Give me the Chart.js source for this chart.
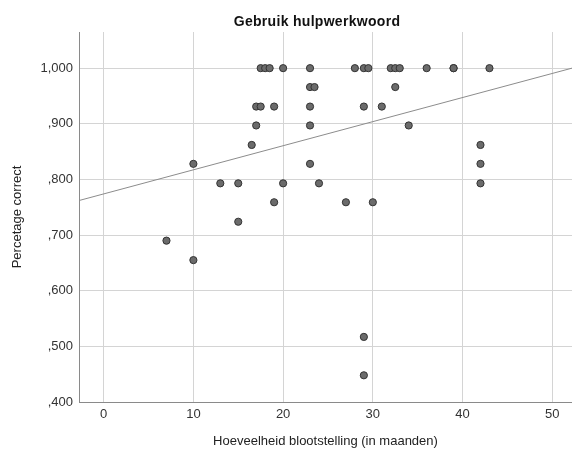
<!DOCTYPE html>
<html>
<head>
<meta charset="utf-8">
<script src="https://cdn.jsdelivr.net/npm/chart.js@4/dist/chart.umd.min.js"></script>
<style>
  html, body { margin: 0; padding: 0; background: #fff; }
  #wrap { width: 572px; height: 450px; }
</style>
</head>
<body>
<div id="wrap"><canvas id="c" width="572" height="450"></canvas></div>
<script>
// Exposure (months) per child and share of correct auxiliary-verb uses
const expoMonths = [
  17.5, 18, 18.5, 20, 23, 28, 29, 29.5, 32, 32.5, 33, 36, 39, 39, 43,
  23, 23.5, 32.5,
  17, 17.5, 19, 23, 29, 31,
  17, 23, 34,
  16.5, 42,
  10, 23, 42,
  13, 15, 20, 24, 42,
  19, 27, 30,
  15,
  7,
  10,
  29,
  29
];
const pctCorrect = [
  1.000, 1.000, 1.000, 1.000, 1.000, 1.000, 1.000, 1.000, 1.000, 1.000, 1.000, 1.000, 1.000, 1.000, 1.000,
  0.966, 0.966, 0.966,
  0.931, 0.931, 0.931, 0.931, 0.931, 0.931,
  0.897, 0.897, 0.897,
  0.862, 0.862,
  0.828, 0.828, 0.828,
  0.793, 0.793, 0.793, 0.793, 0.793,
  0.759, 0.759, 0.759,
  0.724,
  0.690,
  0.655,
  0.517,
  0.448
];

// Linear fit (total) as reported with the plot
const fitIntercept = 0.774;
const fitSlope = 0.00433;

// Axis ranges and tick values
const xRange = [-2.75, 52.2];
const yRange = [0.4, 1.065];
const xTicks = [0, 10, 20, 30, 40, 50];
const yTicks = [0.4, 0.5, 0.6, 0.7, 0.8, 0.9, 1.0];

const chartTitle = 'Gebruik hulpwerkwoord';
const xTitle = 'Hoeveelheid blootstelling (in maanden)';
const yTitle = 'Percetage correct';

const FONT = "'Liberation Sans', Arial, sans-serif";
Chart.defaults.font.family = FONT;

const points = expoMonths.map((x, i) => ({ x: x, y: pctCorrect[i] }));
const fitLine = xRange.map(x => ({ x: x, y: fitIntercept + fitSlope * x }));

// Dutch-style decimal labels without leading zero: 1,000  ,900 ...
function fmtY(v) {
  let s = v.toFixed(3).replace('.', ',');
  if (s.startsWith('0')) s = s.slice(1);
  return s;
}

const titlePlugin = {
  id: 'plotTitle',
  afterDraw(chart) {
    const ctx = chart.ctx;
    ctx.save();
    ctx.font = "bold 14px " + FONT;
    if ('letterSpacing' in ctx) ctx.letterSpacing = '0.3px';
    ctx.fillStyle = '#111';
    ctx.textAlign = 'center';
    ctx.textBaseline = 'alphabetic';
    ctx.fillText(chartTitle, 317, 26);
    ctx.restore();
  }
};

new Chart(document.getElementById('c'), {
  type: 'scatter',
  data: {
    datasets: [
      {
        type: 'line',
        data: fitLine,
        borderColor: '#8c8c8c',
        borderWidth: 1,
        pointRadius: 0,
        fill: false,
        order: 0
      },
      {
        data: points,
        backgroundColor: '#6b6b6b',
        borderColor: '#333333',
        borderWidth: 1,
        pointRadius: 3.6,
        pointHoverRadius: 3.6,
        order: 1
      }
    ]
  },
  options: {
    responsive: false,
    animation: false,
    layout: { autoPadding: false, padding: { top: 32, left: 0, right: 0, bottom: 0 } },
    plugins: {
      legend: { display: false },
      title: { display: false },
      tooltip: { enabled: false }
    },
    scales: {
      x: {
        type: 'linear',
        min: xRange[0],
        max: xRange[1],
        afterBuildTicks: s => { s.ticks = xTicks.map(v => ({ value: v })); },
        afterFit: s => { s.height = 48; s.paddingLeft = 0; s.paddingRight = 0; },
        grid: { color: '#d4d4d4', lineWidth: 1, drawTicks: false },
        border: { display: true, color: '#8a8a8a', width: 1 },
        ticks: {
          padding: 5,
          color: '#333',
          font: { size: 13 },
          maxRotation: 0,
          callback: v => String(v)
        },
        title: {
          display: true,
          text: xTitle,
          color: '#222',
          font: { size: 13 },
          padding: { top: 0, bottom: 1 }
        }
      },
      y: {
        type: 'linear',
        min: yRange[0],
        max: yRange[1],
        afterBuildTicks: s => { s.ticks = yTicks.map(v => ({ value: v })); },
        afterFit: s => { s.width = 79; s.paddingTop = 0; s.paddingBottom = 0; },
        grid: { color: '#d4d4d4', lineWidth: 1, drawTicks: false },
        border: { display: true, color: '#8a8a8a', width: 1 },
        ticks: {
          padding: 6,
          color: '#333',
          font: { size: 13 },
          callback: v => fmtY(v)
        },
        title: {
          display: true,
          text: yTitle,
          color: '#222',
          font: { size: 13 },
          padding: { top: 10, bottom: 0 }
        }
      }
    }
  },
  plugins: [titlePlugin]
});
</script>
</body>
</html>
